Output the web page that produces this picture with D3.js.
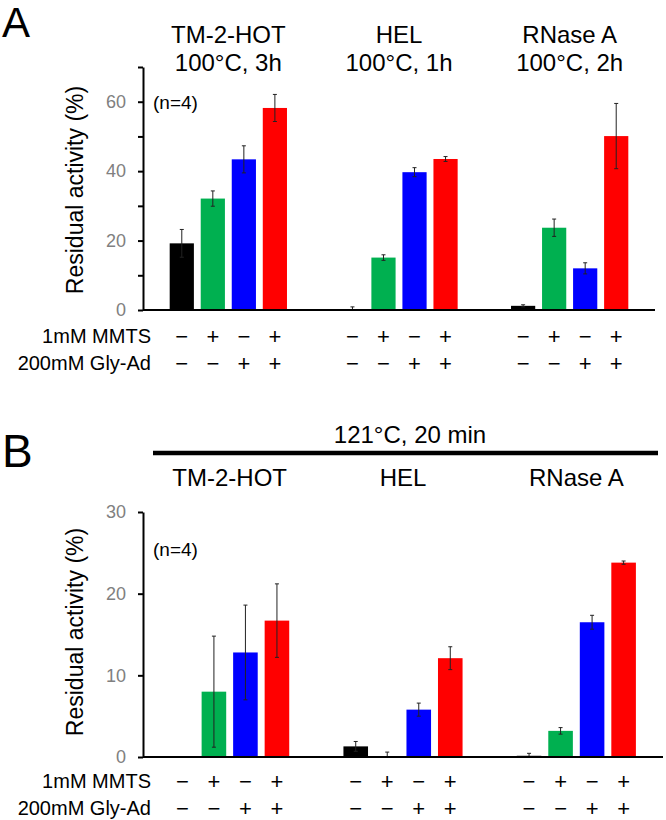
<!DOCTYPE html>
<html>
<head>
<meta charset="utf-8">
<script src="https://cdn.jsdelivr.net/npm/d3@7"></script>
<style>
  body { margin: 0; background: #fff; }
  svg text { font-family: "Liberation Sans", Arial, sans-serif; }
</style>
</head>
<body>
<div id="chart"></div>
<script>
// proteins and conditions
const proteins = ["TM-2-HOT", "HEL", "RNase A"];
const headersA = ["100°C, 3h", "100°C, 1h", "100°C, 2h"];
const headerB = "121°C, 20 min";
const mmtsSigns = ["−", "+", "−", "+"];
const glySigns = ["−", "−", "+", "+"];
const barColors = ["#000000", "#00b050", "#0000ff", "#ff0000"];

// residual activity (%) per protein, 4 conditions each
const valuesA = [[19.2, 32.1, 43.4, 58.2], [0.1, 15.1, 39.7, 43.5], [1.2, 23.7, 12.0, 50.1]];
const errorsA = [[4.0, 2.2, 3.9, 3.9], [0.8, 0.8, 1.3, 0.7], [0.3, 2.5, 1.6, 9.4]];
const valuesB = [[0, 8.0, 12.8, 16.7], [1.3, 0, 5.8, 12.1], [0.15, 3.2, 16.5, 23.8]];
const errorsB = [[0, 6.8, 5.8, 4.5], [0.6, 0.6, 0.8, 1.4], [0.3, 0.4, 0.85, 0.2]];

const ticksA = [0, 10, 20, 30, 40, 50, 60, 70];
const ticksB = [0, 10, 20, 30];

const width = 666, height = 820;
const svg = d3.select("#chart").append("svg")
    .attr("width", width)
    .attr("height", height);

function drawPanel(opt) {
    const g = svg.append("g");
    const x0 = d3.scaleBand().domain(d3.range(proteins.length)).range([143, opt.xEnd]);
    const x1 = d3.scaleBand().domain(d3.range(4)).range([0, x0.bandwidth()])
        .paddingInner(0.22).paddingOuter(0.86);
    const y = d3.scaleLinear().domain([0, opt.max]).range([opt.y0, opt.yTop]);

    // bars
    proteins.forEach((p, i) => {
        const grp = g.append("g").attr("transform", `translate(${x0(i)},0)`);
        grp.selectAll("rect")
            .data(opt.values[i])
            .enter().append("rect")
            .attr("x", (d, j) => x1(j))
            .attr("width", x1.bandwidth())
            .attr("y", d => y(d))
            .attr("height", d => y(0) - y(d))
            .attr("fill", (d, j) => barColors[j]);

        // error bars
        const eb = grp.selectAll("g.err")
            .data(opt.values[i].map((v, j) => ({v: v, e: opt.errors[i][j], j: j})).filter(d => d.e > 0))
            .enter().append("g").attr("class", "err")
            .attr("stroke", "#222").attr("stroke-width", 1);
        const cx = d => x1(d.j) + x1.bandwidth() / 2;
        eb.append("line")
            .attr("x1", cx).attr("x2", cx)
            .attr("y1", d => y(Math.max(0, d.v - d.e)))
            .attr("y2", d => y(d.v + d.e));
        eb.append("line")
            .attr("x1", d => cx(d) - 2).attr("x2", d => cx(d) + 2)
            .attr("y1", d => y(d.v + d.e)).attr("y2", d => y(d.v + d.e));
        eb.filter(d => d.v - d.e > 0).append("line")
            .attr("x1", d => cx(d) - 2).attr("x2", d => cx(d) + 2)
            .attr("y1", d => y(d.v - d.e)).attr("y2", d => y(d.v - d.e));

        // +/- rows
        [mmtsSigns, glySigns].forEach((signs, r) => {
            grp.selectAll("text.s" + r)
                .data(signs)
                .enter().append("text")
                .attr("class", "s" + r)
                .attr("x", (d, j) => x1(j) + x1.bandwidth() / 2)
                .attr("y", opt.rowY[r])
                .attr("dy", "0.35em")
                .attr("text-anchor", "middle")
                .attr("font-size", 22)
                .text(d => d);
        });
    });

    // y axis
    const axis = d3.axisLeft(y)
        .tickValues(opt.ticks)
        .tickSizeInner(5)
        .tickSizeOuter(0)
        .tickPadding(12)
        .tickFormat(opt.fmt);
    const ax = g.append("g").attr("transform", "translate(143,0)").call(axis);
    ax.select(".domain").attr("stroke-width", 2);
    ax.selectAll(".tick line").attr("stroke-width", 2);
    ax.selectAll(".tick text")
        .attr("fill", "#808080")
        .attr("font-size", 18)
        .style("font-family", "'Liberation Sans', Arial, sans-serif");

    // baseline
    g.append("line")
        .attr("x1", 143).attr("x2", opt.xEnd)
        .attr("y1", y(0)).attr("y2", y(0))
        .attr("stroke", "#000").attr("stroke-width", 2);

    // axis title
    g.append("text")
        .attr("transform", `translate(83,${opt.titleY}) rotate(-90)`)
        .attr("text-anchor", "middle")
        .attr("font-size", 23)
        .text("Residual activity (%)");

    g.append("text")
        .attr("x", 153).attr("y", opt.nY).attr("dy", "0.35em")
        .attr("font-size", 19)
        .text("(n=4)");

    // row labels
    ["1mM MMTS", "200mM Gly-Ad"].forEach((t, r) => {
        g.append("text")
            .attr("x", 151).attr("y", opt.rowY[r]).attr("dy", "0.35em")
            .attr("text-anchor", "end")
            .attr("font-size", 20)
            .text(t);
    });

    return x0;
}

// Panel A
const xA = drawPanel({
    values: valuesA, errors: errorsA, max: 70, ticks: ticksA,
    fmt: d => d % 20 === 0 ? d : "",
    y0: 310, yTop: 67, xEnd: 655, rowY: [336, 363], titleY: 190, nY: 102
});
proteins.forEach((p, i) => {
    const cx = xA(i) + xA.bandwidth() / 2;
    svg.append("text").attr("x", cx).attr("y", 35).attr("dy", "0.35em")
        .attr("text-anchor", "middle").attr("font-size", 24).text(p);
    svg.append("text").attr("x", cx).attr("y", 63).attr("dy", "0.35em")
        .attr("text-anchor", "middle").attr("font-size", 24).text(headersA[i]);
});
svg.append("text").attr("x", 2).attr("y", 37).attr("font-size", 42).text("A");

// Panel B
const xB = drawPanel({
    values: valuesB, errors: errorsB, max: 30, ticks: ticksB,
    fmt: d => d,
    y0: 757, yTop: 512, xEnd: 663, rowY: [781, 808], titleY: 632, nY: 549
});
proteins.forEach((p, i) => {
    const cx = xB(i) + xB.bandwidth() / 2;
    svg.append("text").attr("x", cx).attr("y", 478).attr("dy", "0.35em")
        .attr("text-anchor", "middle").attr("font-size", 24).text(p);
});
svg.append("text").attr("x", 410).attr("y", 435).attr("dy", "0.35em")
    .attr("text-anchor", "middle").attr("font-size", 24).text(headerB);
svg.append("line").attr("x1", 153).attr("x2", 658).attr("y1", 453).attr("y2", 453)
    .attr("stroke", "#000").attr("stroke-width", 4.5);
svg.append("text").attr("x", 2).attr("y", 467).attr("font-size", 46).text("B");
</script>
</body>
</html>
